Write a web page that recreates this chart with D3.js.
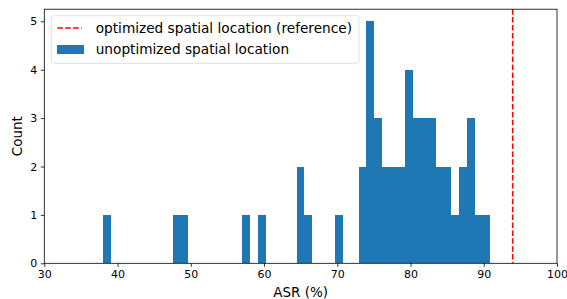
<!DOCTYPE html>
<html><head><meta charset="utf-8">
<script src="https://cdn.jsdelivr.net/npm/d3@7/dist/d3.min.js"></script>
<style>body{margin:0;background:#fff;} svg{display:block;font-family:"DejaVu Sans",sans-serif;}</style>
</head><body>
<script>
// Histogram data: lower bin edges (non-empty bins) and their counts
const binWidth = 1.056;
const binStarts = [38.05, 47.55, 48.61, 57.06, 59.17, 64.45, 65.51, 69.73, 72.90, 73.95, 75.01, 76.07, 77.12, 78.18, 79.23, 80.29, 81.35, 82.40, 83.46, 84.51, 85.57, 86.63, 87.68, 88.74, 89.79];
const counts    = [1, 1, 1, 1, 1, 2, 1, 1, 2, 5, 3, 2, 2, 2, 4, 3, 3, 3, 2, 2, 1, 2, 3, 1, 1];
const referenceASR = 93.95;
const xTicks = [30, 40, 50, 60, 70, 80, 90, 100];
const yTicks = [0, 1, 2, 3, 4, 5];
const legendLabels = ["optimized spatial location (reference)", "unoptimized spatial location"];

const W = 567, H = 299;
const m = {left: 44.3, right: 567 - 557, top: 9.2, bottom: 299 - 263.3};
const svg = d3.select("body").append("svg").attr("width", W).attr("height", H);

const x = d3.scaleLinear().domain([30, 100]).range([m.left, W - m.right]);
const y = d3.scaleLinear().domain([0, 5.25]).range([H - m.bottom, m.top]);

const blue = "#1f77b4";
const bars = binStarts.map((s, i) => {
  let e = s + binWidth;
  if (i + 1 < binStarts.length && Math.abs(binStarts[i + 1] - e) < 0.05) e = binStarts[i + 1];
  return {x0: s, x1: e, c: counts[i]};
});
svg.append("g").attr("shape-rendering", "crispEdges").selectAll("rect").data(bars).join("rect")
  .attr("x", d => Math.round(x(d.x0))).attr("width", d => Math.round(x(d.x1)) - Math.round(x(d.x0)))
  .attr("y", d => Math.round(y(d.c))).attr("height", d => Math.round(y(0)) - Math.round(y(d.c)))
  .attr("fill", blue);

// reference line
svg.append("line")
  .attr("x1", x(referenceASR)).attr("x2", x(referenceASR))
  .attr("y1", y(5.25)).attr("y2", y(0))
  .attr("stroke", "#ff0000").attr("stroke-width", 1.5).attr("stroke-dasharray", "5.5,2.4");

// axes
const xAxis = svg.append("g").attr("transform", `translate(0,${y(0)})`)
  .call(d3.axisBottom(x).tickValues(xTicks).tickSize(3.5).tickPadding(3.5).tickFormat(d3.format("d")));
const yAxis = svg.append("g").attr("transform", `translate(${x(30)},0)`)
  .call(d3.axisLeft(y).tickValues(yTicks).tickSize(3.5).tickPadding(3.5).tickFormat(d3.format("d")));
[xAxis, yAxis].forEach(a => {
  a.selectAll("text").attr("font-size", 11).attr("fill", "#000").attr("font-family", "DejaVu Sans");
  a.selectAll("line").attr("stroke", "#000").attr("stroke-width", 0.8);
  a.select(".domain").remove();
});
// frame
svg.append("rect").attr("x", x(30)).attr("y", y(5.25)).attr("width", x(100) - x(30)).attr("height", y(0) - y(5.25))
  .attr("fill", "none").attr("stroke", "#000").attr("stroke-width", 0.8);

// axis labels
svg.append("text").attr("x", (x(30) + x(100)) / 2).attr("y", 292).attr("dy", "0.35em").attr("text-anchor", "middle")
  .attr("font-size", 13.5).text("ASR (%)");
svg.append("text").attr("transform", `translate(17,${(y(0) + y(5.25)) / 2}) rotate(-90)`)
  .attr("dy", "0.35em").attr("text-anchor", "middle").attr("font-size", 13.5).text("Count");

// legend
const lg = svg.append("g");
lg.append("rect").attr("x", 51.7).attr("y", 15.7).attr("width", 307.3).attr("height", 47.6)
  .attr("rx", 2.5).attr("fill", "#fff").attr("fill-opacity", 0.8).attr("stroke", "#d9d9d9").attr("stroke-width", 0.8);
lg.append("line").attr("x1", 57.3).attr("x2", 81.7).attr("y1", 28).attr("y2", 28)
  .attr("stroke", "#ff0000").attr("stroke-width", 1.5).attr("stroke-dasharray", "5.5,2.4");
lg.append("rect").attr("x", 57).attr("y", 45).attr("width", 27).attr("height", 9).attr("fill", blue);
const t1 = lg.append("text").attr("x", 95.7).attr("y", 28.3).attr("dy", "0.35em").attr("font-size", 10).text(legendLabels[0]);
const w10 = t1.node().getComputedTextLength();
const fs = 10 * 256.6 / w10;
t1.attr("font-size", fs);
lg.append("text").attr("x", 95.7).attr("y", 49.3).attr("dy", "0.35em").attr("font-size", fs).text(legendLabels[1]);
</script>
</body></html>
